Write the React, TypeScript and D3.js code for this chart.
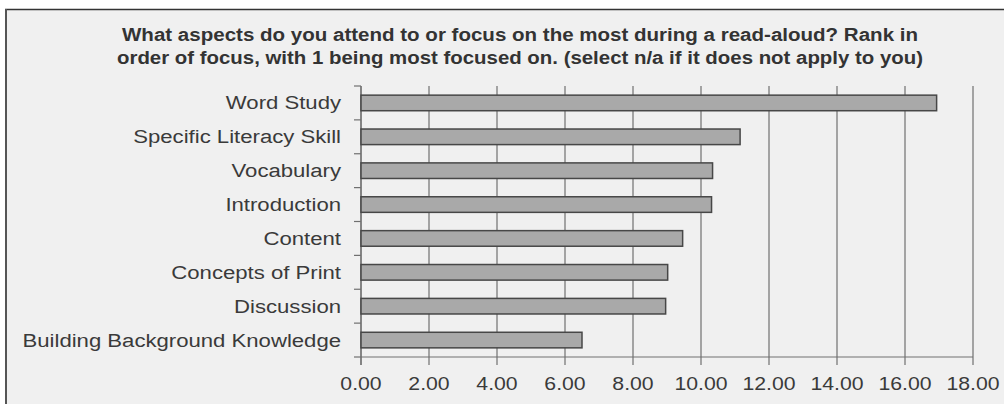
import React from "react";
import * as d3 from "d3";

const categories = [
  "Word Study",
  "Specific Literacy Skill",
  "Vocabulary",
  "Introduction",
  "Content",
  "Concepts of Print",
  "Discussion",
  "Building Background Knowledge",
];
const values = [16.93, 11.15, 10.34, 10.31, 9.46, 9.02, 8.96, 6.5];
const tickValues = [0, 2, 4, 6, 8, 10, 12, 14, 16, 18];
const titleLines = [
  "What aspects do you attend to or focus on the most during a read-aloud? Rank in",
  "order of focus, with 1 being most focused on. (select n/a if it does not apply to you)",
];

export default function App() {
  const W = 1004;
  const H = 404;
  const x = d3.scaleLinear().domain([0, 18]).range([361, 973]);
  const y = d3.scaleBand<string>().domain(categories).range([86, 357]).padding(0);
  const bw = y.bandwidth();
  const barH = bw * 0.46;
  const font = "'Liberation Sans', Arial, sans-serif";
  const sx = 1.23;
  const top = 86;
  const bottom = 357;

  return (
    <svg
      width={W}
      height={H}
      style={{ position: "absolute", left: 0, top: 0, display: "block" }}
    >
      <rect x={0} y={0} width={W} height={H} fill="#ffffff" />
      <rect x={6} y={9} width={W - 6} height={H - 9} fill="#f0f0f0" />
      <line x1={5} x2={W} y1={9.5} y2={9.5} stroke="#333" strokeWidth={1.5} />
      <line x1={6} x2={6} y1={9} y2={H} stroke="#555" strokeWidth={2} />

      {/* title */}
      <text
        x={122}
        y={40.5}
        fontFamily={font}
        fontWeight="bold"
        fontSize={17.5}
        fill="#333"
        textLength={796}
        lengthAdjust="spacingAndGlyphs"
      >
        {titleLines[0]}
      </text>
      <text
        x={117}
        y={63.5}
        fontFamily={font}
        fontWeight="bold"
        fontSize={17.5}
        fill="#333"
        textLength={806}
        lengthAdjust="spacingAndGlyphs"
      >
        {titleLines[1]}
      </text>

      {/* gridlines */}
      {tickValues.map((t) => (
        <line
          key={"g" + t}
          x1={x(t)}
          x2={x(t)}
          y1={top}
          y2={bottom + 8}
          stroke="#707070"
          strokeWidth={1.2}
        />
      ))}

      {/* x axis line */}
      <line x1={x(0)} x2={x(18)} y1={bottom} y2={bottom} stroke="#707070" strokeWidth={1.2} />
      {/* y axis line */}
      <line x1={x(0)} x2={x(0)} y1={top} y2={bottom + 8} stroke="#707070" strokeWidth={1.2} />
      {/* y ticks at band boundaries */}
      {d3.range(categories.length + 1).map((i) => {
        const yy = top + i * bw;
        return (
          <line
            key={"yt" + i}
            x1={x(0) - 7}
            x2={x(0)}
            y1={yy}
            y2={yy}
            stroke="#707070"
            strokeWidth={1.2}
          />
        );
      })}

      {/* bars */}
      {categories.map((c, i) => {
        const yc = (y(c) as number) + bw / 2;
        return (
          <rect
            key={c}
            x={x(0)}
            y={yc - barH / 2}
            width={x(values[i]) - x(0)}
            height={barH}
            fill="#a9a9a9"
            stroke="#474747"
            strokeWidth={1.5}
          />
        );
      })}

      {/* category labels */}
      {categories.map((c) => {
        const yc = (y(c) as number) + bw / 2;
        return (
          <g key={"l" + c} transform={`translate(341,${yc + 6.5}) scale(${sx},1)`}>
            <text textAnchor="end" fontFamily={font} fontSize={18} fill="#3a3a3a">
              {c}
            </text>
          </g>
        );
      })}

      {/* tick labels */}
      {tickValues.map((t) => (
        <g key={"tl" + t} transform={`translate(${x(t)},390) scale(1.18,1)`}>
          <text textAnchor="middle" fontFamily={font} fontSize={18} fill="#3a3a3a">
            {d3.format(".2f")(t)}
          </text>
        </g>
      ))}
    </svg>
  );
}
